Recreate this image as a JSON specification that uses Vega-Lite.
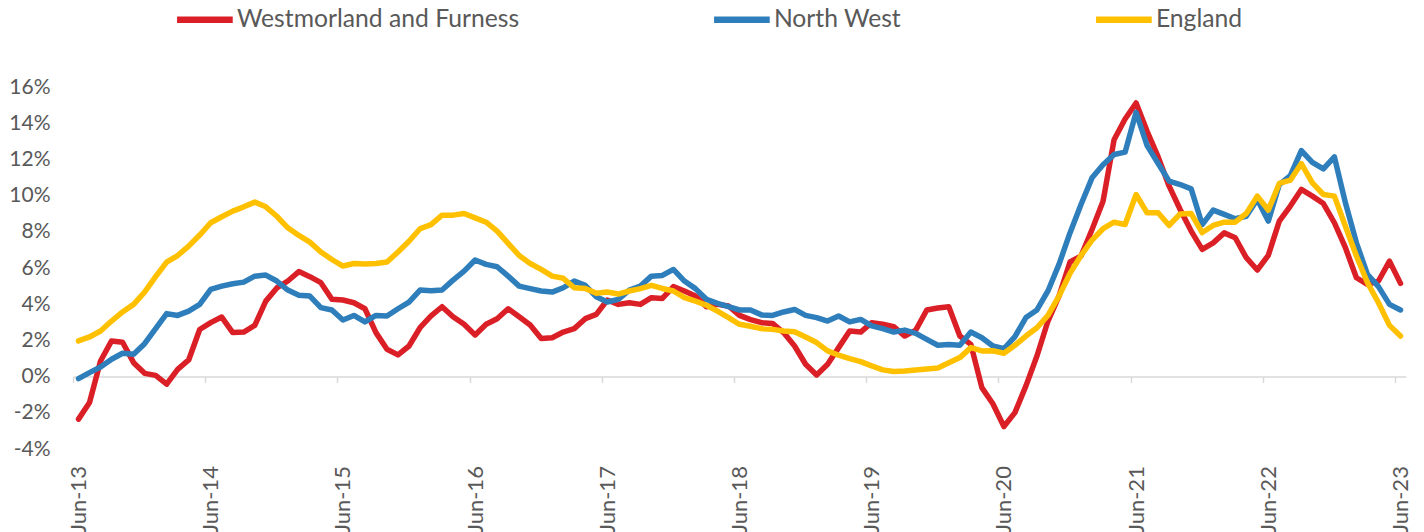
{
  "$schema": "https://vega.github.io/schema/vega-lite/v6.json",
  "width": 1333,
  "height": 362,
  "autosize": {"type": "none"},
  "padding": {"left": 73, "top": 87, "right": 18, "bottom": 83},
  "background": "white",
  "config": {"view": {"stroke": null}, "font": "Lato"},
  "data": {"values": [
    {"month": "Jun-13", "Westmorland and Furness": -2.35, "North West": -0.11, "England": 1.97},
    {"month": "Jul-13", "Westmorland and Furness": -1.43, "North West": 0.22, "England": 2.19},
    {"month": "Aug-13", "Westmorland and Furness": 0.86, "North West": 0.53, "England": 2.52},
    {"month": "Sep-13", "Westmorland and Furness": 1.97, "North West": 0.96, "England": 3.07},
    {"month": "Oct-13", "Westmorland and Furness": 1.9, "North West": 1.29, "England": 3.57},
    {"month": "Nov-13", "Westmorland and Furness": 0.77, "North West": 1.23, "England": 3.99},
    {"month": "Dec-13", "Westmorland and Furness": 0.18, "North West": 1.82, "England": 4.67},
    {"month": "Jan-14", "Westmorland and Furness": 0.07, "North West": 2.65, "England": 5.52},
    {"month": "Feb-14", "Westmorland and Furness": -0.42, "North West": 3.48, "England": 6.33},
    {"month": "Mar-14", "Westmorland and Furness": 0.4, "North West": 3.38, "England": 6.69},
    {"month": "Apr-14", "Westmorland and Furness": 0.92, "North West": 3.62, "England": 7.21},
    {"month": "May-14", "Westmorland and Furness": 2.6, "North West": 3.99, "England": 7.82},
    {"month": "Jun-14", "Westmorland and Furness": 2.98, "North West": 4.82, "England": 8.5},
    {"month": "Jul-14", "Westmorland and Furness": 3.29, "North West": 5.0, "England": 8.83},
    {"month": "Aug-14", "Westmorland and Furness": 2.43, "North West": 5.13, "England": 9.14},
    {"month": "Sep-14", "Westmorland and Furness": 2.46, "North West": 5.22, "England": 9.38},
    {"month": "Oct-14", "Westmorland and Furness": 2.83, "North West": 5.55, "England": 9.64},
    {"month": "Nov-14", "Westmorland and Furness": 4.17, "North West": 5.61, "England": 9.38},
    {"month": "Dec-14", "Westmorland and Furness": 4.9, "North West": 5.28, "England": 8.86},
    {"month": "Jan-15", "Westmorland and Furness": 5.28, "North West": 4.78, "England": 8.22},
    {"month": "Feb-15", "Westmorland and Furness": 5.8, "North West": 4.5, "England": 7.8},
    {"month": "Mar-15", "Westmorland and Furness": 5.52, "North West": 4.45, "England": 7.43},
    {"month": "Apr-15", "Westmorland and Furness": 5.19, "North West": 3.81, "England": 6.88},
    {"month": "May-15", "Westmorland and Furness": 4.27, "North West": 3.68, "England": 6.47},
    {"month": "Jun-15", "Westmorland and Furness": 4.23, "North West": 3.13, "England": 6.11},
    {"month": "Jul-15", "Westmorland and Furness": 4.08, "North West": 3.38, "England": 6.25},
    {"month": "Aug-15", "Westmorland and Furness": 3.75, "North West": 3.02, "England": 6.22},
    {"month": "Sep-15", "Westmorland and Furness": 2.43, "North West": 3.38, "England": 6.25},
    {"month": "Oct-15", "Westmorland and Furness": 1.51, "North West": 3.35, "England": 6.33},
    {"month": "Nov-15", "Westmorland and Furness": 1.2, "North West": 3.75, "England": 6.88},
    {"month": "Dec-15", "Westmorland and Furness": 1.69, "North West": 4.12, "England": 7.48},
    {"month": "Jan-16", "Westmorland and Furness": 2.7, "North West": 4.78, "England": 8.17},
    {"month": "Feb-16", "Westmorland and Furness": 3.35, "North West": 4.74, "England": 8.4},
    {"month": "Mar-16", "Westmorland and Furness": 3.86, "North West": 4.78, "England": 8.92},
    {"month": "Apr-16", "Westmorland and Furness": 3.31, "North West": 5.33, "England": 8.92},
    {"month": "May-16", "Westmorland and Furness": 2.89, "North West": 5.83, "England": 9.01},
    {"month": "Jun-16", "Westmorland and Furness": 2.3, "North West": 6.44, "England": 8.77},
    {"month": "Jul-16", "Westmorland and Furness": 2.89, "North West": 6.2, "England": 8.53},
    {"month": "Aug-16", "Westmorland and Furness": 3.2, "North West": 6.07, "England": 8.04},
    {"month": "Sep-16", "Westmorland and Furness": 3.75, "North West": 5.55, "England": 7.36},
    {"month": "Oct-16", "Westmorland and Furness": 3.31, "North West": 5.0, "England": 6.69},
    {"month": "Nov-16", "Westmorland and Furness": 2.85, "North West": 4.86, "England": 6.25},
    {"month": "Dec-16", "Westmorland and Furness": 2.1, "North West": 4.73, "England": 5.92},
    {"month": "Jan-17", "Westmorland and Furness": 2.15, "North West": 4.67, "England": 5.55},
    {"month": "Feb-17", "Westmorland and Furness": 2.46, "North West": 4.91, "England": 5.43},
    {"month": "Mar-17", "Westmorland and Furness": 2.65, "North West": 5.28, "England": 4.91},
    {"month": "Apr-17", "Westmorland and Furness": 3.2, "North West": 5.04, "England": 4.87},
    {"month": "May-17", "Westmorland and Furness": 3.44, "North West": 4.41, "England": 4.6},
    {"month": "Jun-17", "Westmorland and Furness": 4.23, "North West": 4.12, "England": 4.67},
    {"month": "Jul-17", "Westmorland and Furness": 3.99, "North West": 4.27, "England": 4.56},
    {"month": "Aug-17", "Westmorland and Furness": 4.08, "North West": 4.78, "England": 4.73},
    {"month": "Sep-17", "Westmorland and Furness": 3.99, "North West": 5.0, "England": 4.86},
    {"month": "Oct-17", "Westmorland and Furness": 4.36, "North West": 5.55, "England": 5.04},
    {"month": "Nov-17", "Westmorland and Furness": 4.32, "North West": 5.59, "England": 4.87},
    {"month": "Dec-17", "Westmorland and Furness": 4.97, "North West": 5.92, "England": 4.73},
    {"month": "Jan-18", "Westmorland and Furness": 4.73, "North West": 5.28, "England": 4.36},
    {"month": "Feb-18", "Westmorland and Furness": 4.45, "North West": 4.86, "England": 4.17},
    {"month": "Mar-18", "Westmorland and Furness": 3.86, "North West": 4.27, "England": 3.94},
    {"month": "Apr-18", "Westmorland and Furness": 3.99, "North West": 4.05, "England": 3.62},
    {"month": "May-18", "Westmorland and Furness": 3.9, "North West": 3.86, "England": 3.26},
    {"month": "Jun-18", "Westmorland and Furness": 3.38, "North West": 3.68, "England": 2.89},
    {"month": "Jul-18", "Westmorland and Furness": 3.15, "North West": 3.68, "England": 2.78},
    {"month": "Aug-18", "Westmorland and Furness": 2.98, "North West": 3.41, "England": 2.65},
    {"month": "Sep-18", "Westmorland and Furness": 2.94, "North West": 3.38, "England": 2.61},
    {"month": "Oct-18", "Westmorland and Furness": 2.43, "North West": 3.57, "England": 2.52},
    {"month": "Nov-18", "Westmorland and Furness": 1.69, "North West": 3.71, "England": 2.48},
    {"month": "Dec-18", "Westmorland and Furness": 0.68, "North West": 3.38, "England": 2.19},
    {"month": "Jan-19", "Westmorland and Furness": 0.09, "North West": 3.26, "England": 1.88},
    {"month": "Feb-19", "Westmorland and Furness": 0.68, "North West": 3.07, "England": 1.42},
    {"month": "Mar-19", "Westmorland and Furness": 1.6, "North West": 3.35, "England": 1.18},
    {"month": "Apr-19", "Westmorland and Furness": 2.52, "North West": 3.02, "England": 0.99},
    {"month": "May-19", "Westmorland and Furness": 2.46, "North West": 3.16, "England": 0.83},
    {"month": "Jun-19", "Westmorland and Furness": 2.98, "North West": 2.8, "England": 0.59},
    {"month": "Jul-19", "Westmorland and Furness": 2.89, "North West": 2.65, "England": 0.37},
    {"month": "Aug-19", "Westmorland and Furness": 2.76, "North West": 2.46, "England": 0.28},
    {"month": "Sep-19", "Westmorland and Furness": 2.24, "North West": 2.57, "England": 0.31},
    {"month": "Oct-19", "Westmorland and Furness": 2.57, "North West": 2.39, "England": 0.37},
    {"month": "Nov-19", "Westmorland and Furness": 3.68, "North West": 2.06, "England": 0.42},
    {"month": "Dec-19", "Westmorland and Furness": 3.79, "North West": 1.73, "England": 0.48},
    {"month": "Jan-20", "Westmorland and Furness": 3.86, "North West": 1.77, "England": 0.77},
    {"month": "Feb-20", "Westmorland and Furness": 2.24, "North West": 1.73, "England": 1.05},
    {"month": "Mar-20", "Westmorland and Furness": 1.78, "North West": 2.46, "England": 1.6},
    {"month": "Apr-20", "Westmorland and Furness": -0.61, "North West": 2.15, "England": 1.42},
    {"month": "May-20", "Westmorland and Furness": -1.5, "North West": 1.69, "England": 1.43},
    {"month": "Jun-20", "Westmorland and Furness": -2.76, "North West": 1.54, "England": 1.29},
    {"month": "Jul-20", "Westmorland and Furness": -1.99, "North West": 2.21, "England": 1.73},
    {"month": "Aug-20", "Westmorland and Furness": -0.51, "North West": 3.26, "England": 2.24},
    {"month": "Sep-20", "Westmorland and Furness": 1.14, "North West": 3.68, "England": 2.7},
    {"month": "Oct-20", "Westmorland and Furness": 3.07, "North West": 4.73, "England": 3.38},
    {"month": "Nov-20", "Westmorland and Furness": 4.45, "North West": 6.2, "England": 4.45},
    {"month": "Dec-20", "Westmorland and Furness": 6.33, "North West": 7.94, "England": 5.7},
    {"month": "Jan-21", "Westmorland and Furness": 6.66, "North West": 9.51, "England": 6.69},
    {"month": "Feb-21", "Westmorland and Furness": 8.13, "North West": 10.98, "England": 7.54},
    {"month": "Mar-21", "Westmorland and Furness": 9.69, "North West": 11.71, "England": 8.17},
    {"month": "Apr-21", "Westmorland and Furness": 13.09, "North West": 12.27, "England": 8.53},
    {"month": "May-21", "Westmorland and Furness": 14.23, "North West": 12.4, "England": 8.4},
    {"month": "Jun-21", "Westmorland and Furness": 15.12, "North West": 14.6, "England": 10.06},
    {"month": "Jul-21", "Westmorland and Furness": 13.55, "North West": 12.76, "England": 9.05},
    {"month": "Aug-21", "Westmorland and Furness": 12.14, "North West": 11.77, "England": 9.05},
    {"month": "Sep-21", "Westmorland and Furness": 10.52, "North West": 10.8, "England": 8.35},
    {"month": "Oct-21", "Westmorland and Furness": 9.23, "North West": 10.61, "England": 8.99},
    {"month": "Nov-21", "Westmorland and Furness": 8.04, "North West": 10.37, "England": 9.01},
    {"month": "Dec-21", "Westmorland and Furness": 7.03, "North West": 8.4, "England": 7.96},
    {"month": "Jan-22", "Westmorland and Furness": 7.39, "North West": 9.2, "England": 8.35},
    {"month": "Feb-22", "Westmorland and Furness": 7.94, "North West": 8.96, "England": 8.53},
    {"month": "Mar-22", "Westmorland and Furness": 7.67, "North West": 8.72, "England": 8.53},
    {"month": "Apr-22", "Westmorland and Furness": 6.57, "North West": 8.86, "England": 9.01},
    {"month": "May-22", "Westmorland and Furness": 5.89, "North West": 9.78, "England": 9.97},
    {"month": "Jun-22", "Westmorland and Furness": 6.7, "North West": 8.59, "England": 9.2},
    {"month": "Jul-22", "Westmorland and Furness": 8.59, "North West": 10.61, "England": 10.67},
    {"month": "Aug-22", "Westmorland and Furness": 9.42, "North West": 11.11, "England": 10.85},
    {"month": "Sep-22", "Westmorland and Furness": 10.34, "North West": 12.49, "England": 11.77},
    {"month": "Oct-22", "Westmorland and Furness": 9.97, "North West": 11.84, "England": 10.7},
    {"month": "Nov-22", "Westmorland and Furness": 9.56, "North West": 11.48, "England": 10.06},
    {"month": "Dec-22", "Westmorland and Furness": 8.5, "North West": 12.14, "England": 9.97},
    {"month": "Jan-23", "Westmorland and Furness": 7.12, "North West": 9.6, "England": 8.31},
    {"month": "Feb-23", "Westmorland and Furness": 5.46, "North West": 7.39, "England": 6.66},
    {"month": "Mar-23", "Westmorland and Furness": 5.09, "North West": 5.65, "England": 5.19},
    {"month": "Apr-23", "Westmorland and Furness": 5.28, "North West": 4.97, "England": 4.08},
    {"month": "May-23", "Westmorland and Furness": 6.38, "North West": 3.99, "England": 2.83},
    {"month": "Jun-23", "Westmorland and Furness": 5.15, "North West": 3.68, "England": 2.24}
  ]},
  "transform": [
    {"fold": ["Westmorland and Furness", "North West", "England"], "as": ["series", "value"]}
  ],
  "mark": {"type": "line", "strokeWidth": 5.5, "strokeJoin": "round", "strokeCap": "round"},
  "encoding": {
    "x": {
      "field": "month", "type": "ordinal", "sort": null,
      "scale": {"type": "point", "padding": 0.5},
      "axis": {
        "title": null,
        "values": ["Jun-13", "Jun-14", "Jun-15", "Jun-16", "Jun-17", "Jun-18", "Jun-19", "Jun-20", "Jun-21", "Jun-22", "Jun-23"],
        "labelAngle": -90,
        "tickOffset": -5.51,
        "labelOffset": 5.51,
        "offset": -72.4,
        "domainColor": "#d9d9d9",
        "domainWidth": 1.5,
        "tickColor": "#d9d9d9",
        "tickWidth": 1.5,
        "tickSize": 6,
        "labelPadding": 83,
        "labelFontSize": 22,
        "labelColor": "#595959",
        "labelFont": "Lato",
        "grid": false
      }
    },
    "y": {
      "field": "value", "type": "quantitative",
      "scale": {"domain": [-4, 16], "nice": false},
      "axis": {
        "title": null,
        "values": [-4, -2, 0, 2, 4, 6, 8, 10, 12, 14, 16],
        "labelExpr": "datum.value + '%'",
        "domain": false,
        "ticks": false,
        "grid": false,
        "labelPadding": 23,
        "labelFontSize": 21,
        "labelColor": "#595959",
        "labelFont": "Lato"
      }
    },
    "color": {
      "field": "series", "type": "nominal",
      "sort": ["Westmorland and Furness", "North West", "England"],
      "scale": {"domain": ["Westmorland and Furness", "North West", "England"], "range": ["#DA1F26", "#2E7EBB", "#FFC000"]},
      "legend": {
        "title": null,
        "orient": "none",
        "direction": "horizontal",
        "legendX": 100.4,
        "legendY": -99,
        "padding": 0,
        "symbolType": "stroke",
        "symbolSize": 3100,
        "symbolStrokeWidth": 6.5,
        "labelFontSize": 24.7,
        "labelColor": "#595959",
        "labelFont": "Lato",
        "labelLimit": 400,
        "labelOffset": 0.5,
        "columnPadding": 181
      }
    }
  }
}
